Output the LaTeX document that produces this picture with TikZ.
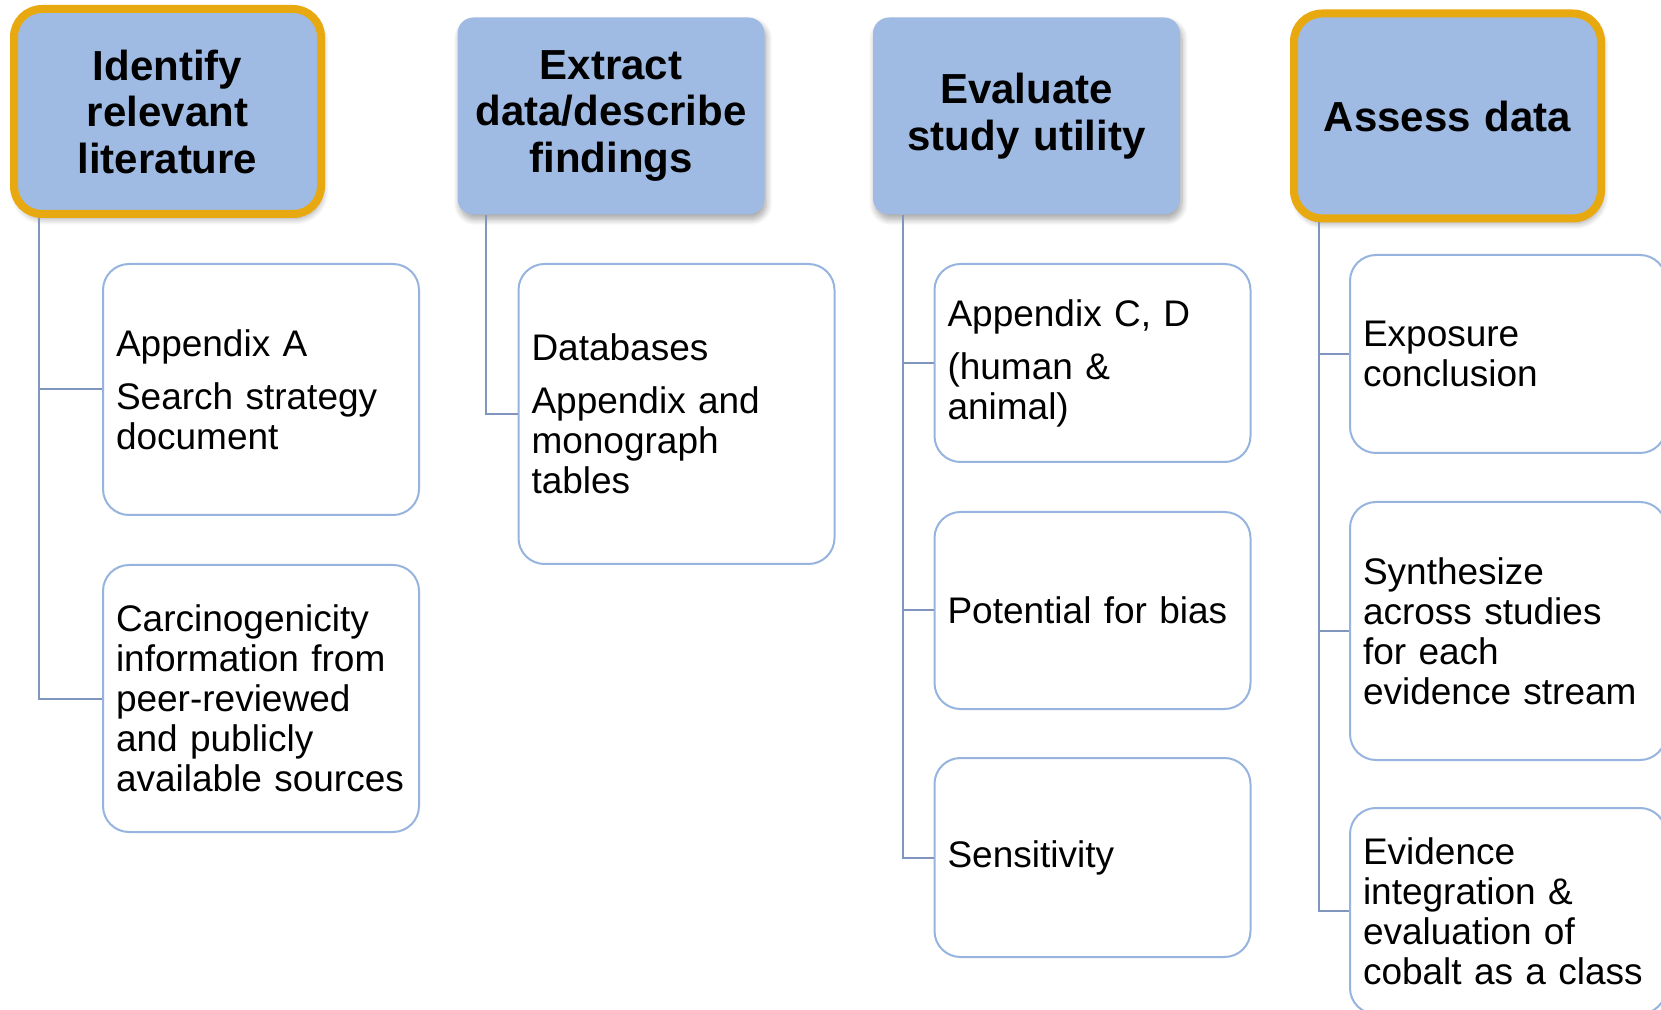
\documentclass[tikz,border=0pt]{standalone}
\usepackage{fontspec}
\setmainfont{Liberation Sans}
\usepackage{xcolor}
\usepackage{tikz}
\usetikzlibrary{positioning, shadows.blur}
\definecolor{hdrblue}{RGB}{160,187,227}
\definecolor{myorange}{RGB}{232,168,15}
\definecolor{boxblue}{RGB}{150,180,222}
\definecolor{linkblue}{RGB}{128,150,190}
\tikzset{
  header/.style={rectangle, fill=hdrblue, draw=none, rounded corners=8pt,
    minimum width=153.5pt, minimum height=98.5pt, text width=150pt, align=center,
    inner sep=0pt, font=\fontsize{21}{23.25}\selectfont\bfseries,
    blur shadow={shadow xshift=1pt, shadow yshift=-2.5pt, shadow opacity=35,
      shadow blur radius=3pt, shadow blur steps=8}},
  focus/.style={draw=myorange, line width=4pt, rounded corners=14pt,
    minimum height=102.5pt},
  item/.style={rectangle, draw=boxblue, fill=white, rounded corners=13pt,
    line width=1pt, minimum width=158pt, text width=145pt, align=left,
    inner xsep=6.5pt, font=\fontsize{18.5}{20}\selectfont},
  line/.style={draw=linkblue, line width=1pt}
}

\begin{document}
\begin{tikzpicture}[x=0.5pt, y=-0.5pt]
  \useasboundingbox (0,0) rectangle (1661,1010);

  % Column heads
  \node[header, focus] (h1) at (167.5,111.5) {Identify\\relevant\\literature};
  \node[header] (h2) at (611,116) {Extract\\data/describe\\findings};
  \node[header] (h3) at (1026.5,116) {Evaluate\\study utility};
  \node[header, focus] (h4) at (1447.5,116) {Assess data};

  % Literature
  \node[item, minimum height=125.5pt] (a1) at (261,389.5) {Appendix A\\[6.5pt]Search strategy\\document};
  \node[item, minimum height=133.5pt] (a2) at (261,698.5) {Carcinogenicity\\information from\\peer-reviewed\\and publicly\\available sources};

  % Extraction
  \node[item, minimum height=150pt] (b1) at (676.5,414) {Databases\\[6.5pt]Appendix and\\monograph\\tables};

  % Study utility
  \node[item, minimum height=99pt] (c1) at (1092.5,363) {Appendix C, D\\[6.5pt](human \&\\animal)};
  \node[item, minimum height=98.5pt] (c2) at (1092.5,610.5) {Potential for bias};
  \node[item, minimum height=99.5pt] (c3) at (1092.5,857.5) {Sensitivity};

  % Assessment
  \node[item, minimum height=99pt] (d1) at (1508,354) {Exposure\\conclusion};
  \node[item, minimum height=129pt] (d2) at (1508,631) {Synthesize\\across studies\\for each\\evidence stream};
  \node[item, minimum height=103pt] (d3) at (1508,911) {Evidence\\integration \&\\evaluation of\\cobalt as a class};

  % Links
  \draw[line] ([xshift=14.5pt]h1.south west) |- (a1.west);
  \draw[line] ([xshift=14.5pt]h1.south west) |- (a2.west);
  \draw[line] ([xshift=14.5pt]h2.south west) |- (b1.west);
  \draw[line] ([xshift=15pt]h3.south west) |- (c1.west);
  \draw[line] ([xshift=15pt]h3.south west) |- (c2.west);
  \draw[line] ([xshift=15pt]h3.south west) |- (c3.west);
  \draw[line] ([xshift=14.5pt]h4.south west) |- (d1.west);
  \draw[line] ([xshift=14.5pt]h4.south west) |- (d2.west);
  \draw[line] ([xshift=14.5pt]h4.south west) |- (d3.west);
\end{tikzpicture}
\end{document}
